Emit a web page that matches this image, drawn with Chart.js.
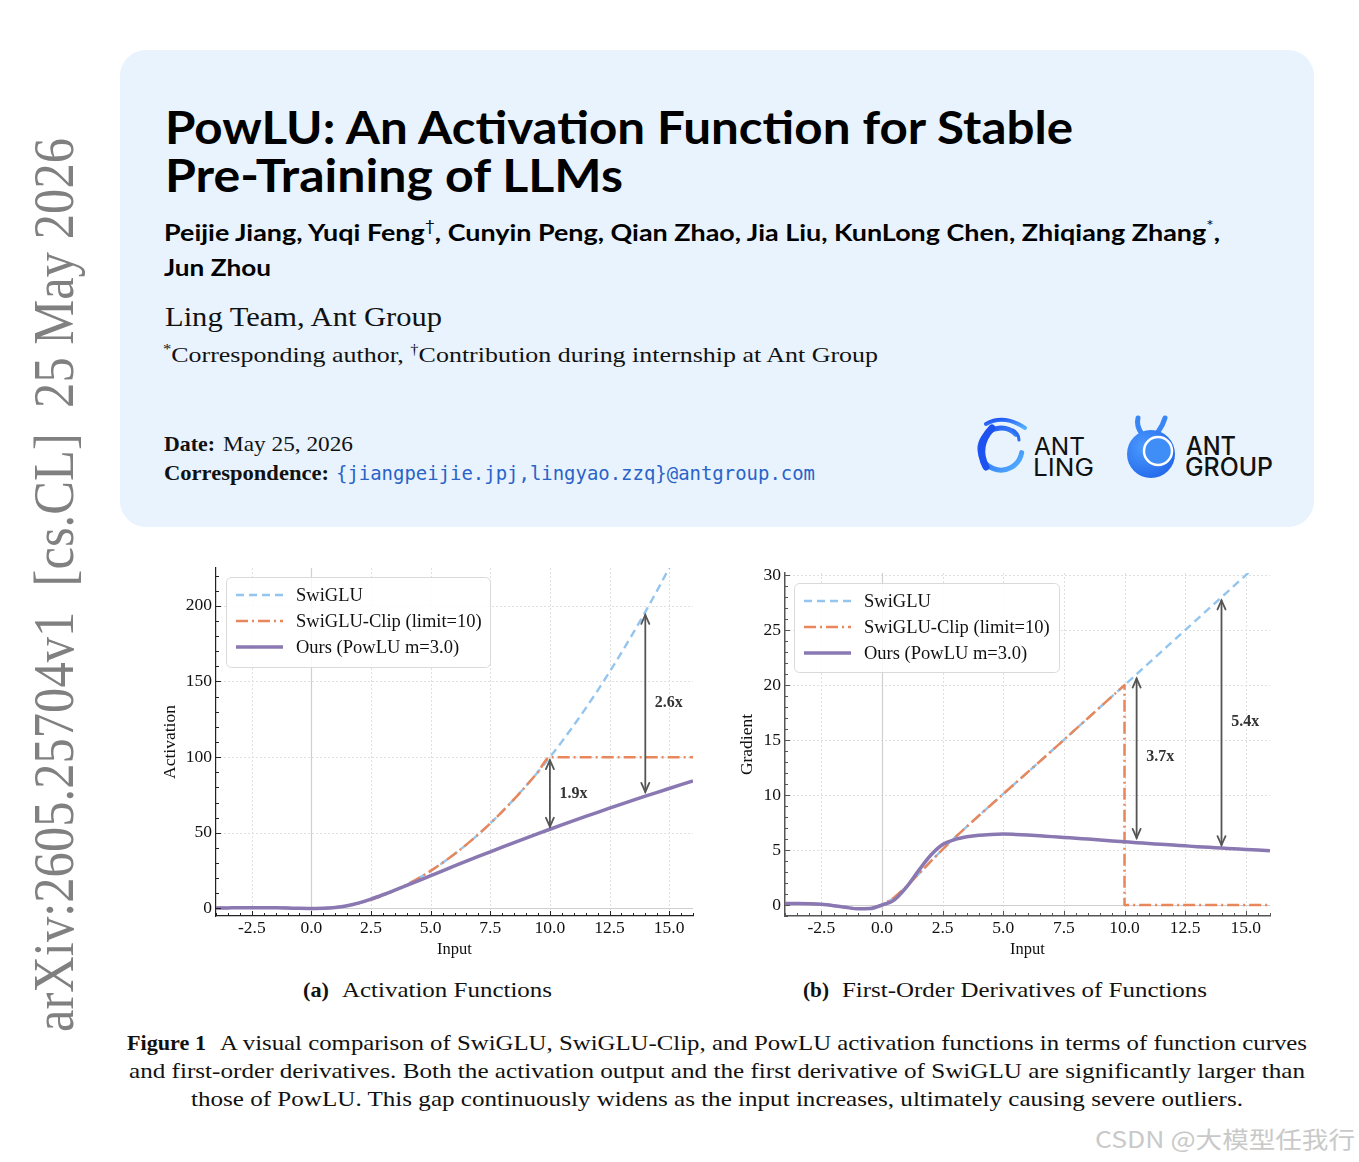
<!DOCTYPE html>
<html><head><meta charset="utf-8">
<script src="https://cdn.jsdelivr.net/npm/chart.js@4.4.1/dist/chart.umd.min.js"></script>
<style>
html,body{margin:0;padding:0;background:#fff;}
body{width:1359px;height:1162px;position:relative;overflow:hidden;}
#page{position:absolute;left:0;top:0;}
canvas.chart{position:absolute;}
</style></head>
<body>
<svg id="page" width="1359" height="1162" xmlns="http://www.w3.org/2000/svg">
  <defs>
    <linearGradient id="g1" x1="0" y1="0" x2="1" y2="1">
      <stop offset="0" stop-color="#1c4ff2"/><stop offset="1" stop-color="#55b2ff"/>
    </linearGradient>
    <radialGradient id="g2" cx="0.35" cy="0.35" r="0.8">
      <stop offset="0" stop-color="#4b9bff"/><stop offset="1" stop-color="#1f63e8"/>
    </radialGradient>
  </defs>
  <rect x="120" y="50" width="1194" height="477" rx="26" ry="26" fill="#e8f3fd"/>
  <!-- arXiv side stamp -->
  <text transform="translate(73,1032) rotate(-90)" x="0" y="0" font-family="Liberation Serif" font-size="56" fill="#808080" textLength="894" lengthAdjust="spacingAndGlyphs" style="white-space:pre">arXiv:2605.25704v1  [cs.CL]  25 May 2026</text>
  <!-- title -->
  <g font-family="Lato" font-weight="700" fill="#000">
    <text x="165" y="144" font-size="45" textLength="908" lengthAdjust="spacingAndGlyphs">PowLU: An Activation Function for Stable</text>
    <text x="165" y="192" font-size="45" textLength="458" lengthAdjust="spacingAndGlyphs">Pre-Training of LLMs</text>
  </g>
  <g font-family="Lato" font-weight="700" fill="#000" font-size="23">
    <text x="164" y="241" textLength="1056" lengthAdjust="spacingAndGlyphs">Peijie Jiang, Yuqi Feng<tspan font-size="15" font-weight="400" dy="-10">†</tspan><tspan dy="10">, Cunyin Peng, Qian Zhao, Jia Liu, KunLong Chen, Zhiqiang Zhang</tspan><tspan font-size="15" font-weight="400" dy="-10">*</tspan><tspan dy="10">,</tspan></text>
    <text x="164" y="276" textLength="107" lengthAdjust="spacingAndGlyphs">Jun Zhou</text>
  </g>
  <g font-family="Liberation Serif" fill="#111">
    <text x="165" y="326" font-size="28" textLength="277" lengthAdjust="spacingAndGlyphs">Ling Team, Ant Group</text>
    <text x="163" y="362" font-size="22" textLength="715" lengthAdjust="spacingAndGlyphs"><tspan font-size="14" dy="-8">*</tspan><tspan dy="8">Corresponding author, </tspan><tspan font-size="14" dy="-8">†</tspan><tspan dy="8">Contribution during internship at Ant Group</tspan></text>
    <text x="164" y="451" font-size="21" font-weight="700" textLength="51" lengthAdjust="spacingAndGlyphs">Date:</text>
    <text x="223" y="451" font-size="21" textLength="130" lengthAdjust="spacingAndGlyphs">May 25, 2026</text>
    <text x="164" y="480" font-size="21" font-weight="700" textLength="165" lengthAdjust="spacingAndGlyphs">Correspondence:</text>
  </g>
  <text x="336" y="480" font-family="DejaVu Sans Mono" font-size="19" fill="#2a63c8" textLength="479" lengthAdjust="spacingAndGlyphs">{jiangpeijie.jpj,lingyao.zzq}@antgroup.com</text>
  <!-- logos -->
  <g fill="none" stroke-linecap="round">
    <path d="M 1015.8 434.2 A 21 21 0 1 0 1021.7 452.6" stroke="url(#g1)" stroke-width="5"/>
    <path d="M 992 428 Q 975 446 986 467" stroke="#1d52f0" stroke-width="7"/>
    <path d="M 986 424 Q 1004 414 1025 428" stroke="url(#g1)" stroke-width="4"/>
    <path d="M 1013 430 Q 1019 434 1019 440" stroke="#2b6cf4" stroke-width="3"/>
  </g>
  <g font-family="Inter" font-weight="400" fill="#111" font-size="24">
    <text x="1034" y="455" textLength="51" lengthAdjust="spacingAndGlyphs">ANT</text>
    <text x="1033" y="476" textLength="61" lengthAdjust="spacingAndGlyphs">LING</text>
  </g>
  <path d="M 1142 434 Q 1136 426 1138 418" stroke="#3a86f5" stroke-width="5" fill="none" stroke-linecap="round"/>
  <path d="M 1158 432 Q 1163 425 1165 418" stroke="#3a86f5" stroke-width="5" fill="none" stroke-linecap="round"/>
  <circle cx="1151" cy="454" r="24" fill="url(#g2)"/>
  <circle cx="1158" cy="451" r="14" fill="#3f8ef7" stroke="#ffffff" stroke-width="2.5"/>
  <g font-family="Inter" font-weight="500" fill="#111" font-size="25">
    <text x="1186" y="455" textLength="50" lengthAdjust="spacingAndGlyphs">ANT</text>
    <text x="1185" y="476" textLength="88" lengthAdjust="spacingAndGlyphs">GROUP</text>
  </g>
  <!-- sub captions -->
  <g font-family="Liberation Serif" fill="#111" font-size="22">
    <text x="303" y="997" font-weight="700" textLength="26" lengthAdjust="spacingAndGlyphs">(a)</text>
    <text x="342" y="997" textLength="210" lengthAdjust="spacingAndGlyphs">Activation Functions</text>
    <text x="803" y="997" font-weight="700" textLength="26" lengthAdjust="spacingAndGlyphs">(b)</text>
    <text x="842" y="997" textLength="365" lengthAdjust="spacingAndGlyphs">First-Order Derivatives of Functions</text>
    <text x="127" y="1050" font-weight="700" textLength="79" lengthAdjust="spacingAndGlyphs">Figure 1</text>
    <text x="220" y="1050" textLength="1087" lengthAdjust="spacingAndGlyphs">A visual comparison of SwiGLU, SwiGLU-Clip, and PowLU activation functions in terms of function curves</text>
    <text x="129" y="1078" textLength="1176" lengthAdjust="spacingAndGlyphs">and first-order derivatives. Both the activation output and the first derivative of SwiGLU are significantly larger than</text>
    <text x="191" y="1106" textLength="1052" lengthAdjust="spacingAndGlyphs">those of PowLU. This gap continuously widens as the input increases, ultimately causing severe outliers.</text>
  </g>
  <text x="1095" y="1148" font-family="Noto Sans CJK SC" font-size="23" fill="#c9c9c9" textLength="260" lengthAdjust="spacingAndGlyphs">CSDN @大模型任我行</text>
</svg>
<canvas id="chartA" class="chart" width="560" height="412" style="left:150px;top:548px;width:560px;height:412px;"></canvas>
<canvas id="chartB" class="chart" width="560" height="407" style="left:730px;top:553px;width:560px;height:407px;"></canvas>
<script>
// ---------- data ----------
const xValues = [-4,-3.5,-3,-2.5,-2,-1.5,-1,-0.5,0,0.5,1,1.5,2,2.5,3,3.5,4,4.5,5,5.5,6,6.5,7,7.5,8,8.5,9,9.5,10,10.5,11,11.5,12,12.5,13,13.5,14,14.5,15,15.5,16];

const swigluAct = [0.29,0.36,0.43,0.47,0.48,0.41,0.27,0.09,0,0.16,0.73,1.84,3.52,5.78,8.57,11.89,15.71,20.03,24.83,30.13,35.91,42.19,48.96,56.22,63.98,72.24,80.99,90.24,100.0,110.25,121.0,132.25,144.0,156.25,169.0,182.25,196.0,210.25,225.0,240.25,256.0];
const clipAct = [0.29,0.36,0.43,0.47,0.48,0.41,0.27,0.09,0,0.16,0.73,1.84,3.52,5.78,8.57,11.89,15.71,20.03,24.83,30.13,35.91,42.19,48.96,56.22,63.98,72.24,80.99,90.24,100.0,100,100,100,100,100,100,100,100,100,100,100,100];
const powluAct = [0.29,0.36,0.43,0.47,0.48,0.41,0.27,0.09,0,0.10,0.60,1.78,3.68,6.18,9.04,12.08,15.22,18.41,21.63,24.85,28.05,31.22,34.35,37.44,40.50,43.52,46.50,49.44,52.34,55.20,58.02,60.80,63.54,66.25,68.92,71.56,74.17,76.74,79.28,81.79,84.28];

const swigluGrad = [0.14,0.14,0.12,0.06,-0.06,-0.21,-0.34,-0.32,0,0.68,1.66,2.79,3.94,5.06,6.12,7.14,8.14,9.12,10.10,11.08,12.06,13.04,14.03,15.02,16.02,17.01,18.01,19.01,20.0,21.0,22.0,23.0,24.0,25.0,26.0,27.0,28.0,29.0,30.0,31.0,32.0];
const clipGradX = [-4,-3.5,-3,-2.5,-2,-1.5,-1,-0.5,0,0.5,1,1.5,2,2.5,3,3.5,4,4.5,5,5.5,6,6.5,7,7.5,8,8.5,9,9.5,10,10,10.5,11,11.5,12,12.5,13,13.5,14,14.5,15,15.5,16];
const clipGrad = [0.14,0.14,0.12,0.06,-0.06,-0.21,-0.34,-0.32,0,0.68,1.66,2.79,3.94,5.06,6.12,7.14,8.14,9.12,10.10,11.08,12.06,13.04,14.03,15.02,16.02,17.01,18.01,19.01,20.0,0,0,0,0,0,0,0,0,0,0,0,0,0];
const powluGrad = [0.14,0.14,0.12,0.06,-0.06,-0.21,-0.34,-0.32,0,0.45,1.6,3.1,4.5,5.5,5.95,6.2,6.35,6.42,6.45,6.42,6.37,6.3,6.22,6.15,6.07,6.0,5.92,5.83,5.75,5.67,5.6,5.52,5.45,5.38,5.31,5.25,5.18,5.12,5.05,5.0,4.94];

const xTickValues = [-2.5,0,2.5,5,7.5,10,12.5,15];
const actTickValues = [0,50,100,150,200];
const gradTickValues = [0,5,10,15,20,25,30];
const seriesLabels = ['SwiGLU','SwiGLU-Clip (limit=10)','Ours (PowLU m=3.0)'];

// gap annotations: [x, lower value, upper value, label, label x, label y]
const actGaps = [[10,54,98,'1.9x',10.4,76],[14,77,194,'2.6x',14.4,136]];
const gradGaps = [[10.5,6.1,20.6,'3.7x',10.9,13.5],[14,5.45,27.7,'5.4x',14.4,16.7]];

// ---------- styles ----------
const BLUE = '#94c5ef', ORANGE = '#e8875c', PURPLE = '#8a78b2';
const SERIF = '"Liberation Serif", "Times New Roman", serif';

function pts(xs, ys){ return xs.map((x,i)=>({x:x, y:ys[i]})); }

function decor(o){
  return {
    id:'decor',
    beforeDatasetsDraw(chart){
      const {ctx, chartArea:ca, scales:{x,y}} = chart;
      ctx.save();
      ctx.beginPath(); ctx.rect(ca.left, ca.top, ca.right-ca.left, ca.bottom-ca.top); ctx.clip();
      ctx.lineWidth = 1; ctx.strokeStyle = '#e0e0e0'; ctx.setLineDash([2,2]);
      xTickValues.forEach(v=>{ if(v===0) return; const p=Math.round(x.getPixelForValue(v))+0.5; ctx.beginPath(); ctx.moveTo(p,ca.top); ctx.lineTo(p,ca.bottom); ctx.stroke(); });
      o.yTicks.forEach(v=>{ if(v===0) return; const p=Math.round(y.getPixelForValue(v))+0.5; ctx.beginPath(); ctx.moveTo(ca.left,p); ctx.lineTo(ca.right,p); ctx.stroke(); });
      ctx.setLineDash([]); ctx.strokeStyle = '#cfcfcf'; ctx.lineWidth = 1.2;
      const x0 = Math.round(x.getPixelForValue(0))+0.5, y0 = Math.round(y.getPixelForValue(0))+0.5;
      ctx.beginPath(); ctx.moveTo(x0,ca.top); ctx.lineTo(x0,ca.bottom); ctx.stroke();
      ctx.beginPath(); ctx.moveTo(ca.left,y0); ctx.lineTo(ca.right,y0); ctx.stroke();
      ctx.restore();
    },
    afterDatasetsDraw(chart){
      const {ctx, chartArea:ca, scales:{x,y}} = chart;
      ctx.save();
      // inward tick marks
      ctx.strokeStyle = o.spine; ctx.lineWidth = 1;
      for(let v=-4; v<=16.001; v+=0.5){
        const major = xTickValues.some(t=>Math.abs(t-v)<1e-6);
        const p = Math.round(x.getPixelForValue(v))+0.5;
        ctx.beginPath(); ctx.moveTo(p,ca.bottom); ctx.lineTo(p,ca.bottom-(major?5:3)); ctx.stroke();
      }
      for(let v=o.yMinorStart; v<=o.yMax+1e-6; v+=o.yMinor){
        const major = o.yTicks.some(t=>Math.abs(t-v)<1e-6);
        const p = Math.round(y.getPixelForValue(v))+0.5;
        ctx.beginPath(); ctx.moveTo(ca.left,p); ctx.lineTo(ca.left+(major?5:3),p); ctx.stroke();
      }
      // gap arrows
      ctx.strokeStyle = '#555'; ctx.lineWidth = 1.8; ctx.lineCap='round';
      o.gaps.forEach(g=>{
        const px = x.getPixelForValue(g[0]);
        const pb = y.getPixelForValue(g[1]), pt = y.getPixelForValue(g[2]);
        ctx.beginPath(); ctx.moveTo(px,pb); ctx.lineTo(px,pt); ctx.stroke();
        ctx.beginPath(); ctx.moveTo(px-4,pt+9); ctx.lineTo(px,pt); ctx.lineTo(px+4,pt+9); ctx.stroke();
        ctx.beginPath(); ctx.moveTo(px-4,pb-9); ctx.lineTo(px,pb); ctx.lineTo(px+4,pb-9); ctx.stroke();
        ctx.fillStyle = '#333'; ctx.font = 'bold 16px ' + SERIF; ctx.textAlign='left'; ctx.textBaseline='middle';
        ctx.fillText(g[3], x.getPixelForValue(g[4]), y.getPixelForValue(g[5]));
      });
      // legend
      const lx = ca.left + o.leg[0], ly = ca.top + o.leg[1], lw = o.leg[2], lh = o.leg[3];
      ctx.fillStyle = 'rgba(255,255,255,0.85)'; ctx.strokeStyle = '#d9d9d9'; ctx.lineWidth = 1;
      ctx.beginPath(); ctx.roundRect(lx+0.5, ly+0.5, lw, lh, 5); ctx.fill(); ctx.stroke();
      const styles = [[BLUE,[8,5],2.4],[ORANGE,[12,4,2,4],2.5],[PURPLE,[],3.5]];
      ctx.font = '18.5px ' + SERIF; ctx.textBaseline='middle'; ctx.textAlign='left';
      styles.forEach((s,i)=>{
        const ry = ly + 18 + i*26;
        ctx.strokeStyle = s[0]; ctx.setLineDash(s[1]); ctx.lineWidth = s[2]; ctx.lineCap='butt';
        ctx.beginPath(); ctx.moveTo(lx+10, ry); ctx.lineTo(lx+57, ry); ctx.stroke();
        ctx.setLineDash([]);
        ctx.fillStyle = '#111'; ctx.fillText(seriesLabels[i], lx+70, ry+1);
      });
      ctx.restore();
    }
  };
}

function makeChart(id, o){
  const c = new Chart(document.getElementById(id), {
    type:'line',
    data:{datasets:[
      {label:seriesLabels[2], data:pts(xValues,o.powlu), borderColor:PURPLE, borderWidth:3.5, order:0, cubicInterpolationMode:'monotone'},
      {label:seriesLabels[1], data:pts(o.clipX,o.clip), borderColor:ORANGE, borderWidth:2.5, borderDash:[12,4,2,4], order:1,
        cubicInterpolationMode:o.clipMono?'monotone':'default', tension:0},
      {label:seriesLabels[0], data:pts(xValues,o.swiglu), borderColor:BLUE, borderWidth:2.4, borderDash:[8,5], order:2, cubicInterpolationMode:'monotone'}
    ]},
    options:{
      responsive:false, animation:false, devicePixelRatio:1,
      elements:{point:{radius:0}, line:{borderCapStyle:'butt', borderJoinStyle:'round'}},
      layout:{padding:{top:20, right:o.padRight, left:0, bottom:0}},
      plugins:{legend:{display:false}, tooltip:{enabled:false}},
      scales:{
        x:{type:'linear', min:-4, max:16,
          afterBuildTicks:s=>{ s.ticks = xTickValues.map(v=>({value:v})); },
          afterFit:s=>{ s.height = 44; },
          grid:{display:false, drawTicks:false, tickLength:0}, border:{display:true, color:o.spine, width:o.spineW},
          ticks:{font:{family:SERIF, size:17.5}, color:'#111', padding:2, maxRotation:0, autoSkip:false, callback:v=>Number(v).toFixed(1)},
          title:{display:true, text:'Input', font:{family:SERIF, size:16.5}, color:'#111', padding:{top:0, bottom:0}}},
        y:{type:'linear', min:o.yMin, max:o.yMax,
          afterBuildTicks:s=>{ s.ticks = o.yTicks.map(v=>({value:v})); },
          afterFit:s=>{ s.width = o.yW; },
          grid:{display:false, drawTicks:false, tickLength:0}, border:{display:true, color:o.spine, width:o.spineW},
          ticks:{font:{family:SERIF, size:17.5}, color:'#111', padding:4, autoSkip:false, callback:v=>String(v)},
          title:{display:true, text:o.yTitle, font:{family:SERIF, size:17.5}, color:'#111', padding:{top:o.yTitlePad, bottom:0}}}
      }
    },
    plugins:[decor(o)]
  });
  return c;
}

makeChart('chartA', {
  powlu:powluAct, clip:clipAct, clipX:xValues, clipMono:true, swiglu:swigluAct,
  yMin:-5, yMax:225, yTicks:actTickValues, yMinor:10, yMinorStart:0,
  yW:66, yTitle:'Activation', yTitlePad:10, padRight:17,
  spine:'#222', spineW:1.2, gaps:actGaps, leg:[10,9,264,90]
});
makeChart('chartB', {
  powlu:powluGrad, clip:clipGrad, clipX:clipGradX, clipMono:false, swiglu:swigluGrad,
  yMin:-1, yMax:30.2, yTicks:gradTickValues, yMinor:1, yMinorStart:-1,
  yW:55, yTitle:'Gradient', yTitlePad:7, padRight:20,
  spine:'#555', spineW:1.5, gaps:gradGaps, leg:[9,10,265,89]
});
</script>
</body></html>
